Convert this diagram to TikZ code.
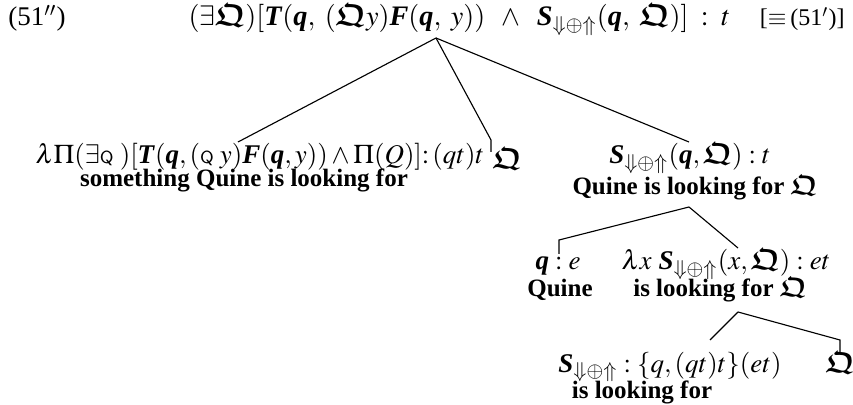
\documentclass[tikz,border=0pt]{standalone}
\usepackage{amsmath,amssymb}
\usepackage{mathptmx}
\usepackage{fontspec}
\setmainfont{Liberation Serif}
\usetikzlibrary{positioning}

\newcommand{\bi}[1]{\textbf{\textit{#1}}}
\newcommand{\fQ}{\text{\scalebox{1.1}{\usefont{U}{euf}{b}{n}Q}}}
\newcommand{\sQ}{\text{\fontsize{7}{8}\sffamily Q\ }}
\newcommand{\Sdo}{\bi{S}_{\text{\fontsize{8.6}{9}\selectfont${\Downarrow}{\oplus}{\Uparrow}$}}}

\begin{document}
\begin{tikzpicture}[
  x=0.4pt, y=-0.4pt,
  frm/.style={anchor=base, inner sep=0pt, font=\fontsize{10.8}{13}\selectfont},
  lbl/.style={anchor=base, inner sep=0pt, font=\fontsize{10}{12}\selectfont\bfseries},
  br/.style={line width=0.45pt}
]
\useasboundingbox (0,0) rectangle (853,405);

% root
\node[frm, anchor=base west] (num) at (8,26) {(51$''$)};
\node[frm, anchor=base west, font=\fontsize{11.3}{13}\selectfont] (root) at (188,26)
  {$(\exists\fQ)[\bi{T}(\bi{q},\;(\fQ y)\bi{F}(\bi{q},\;y))\;\;\wedge\;\;\Sdo(\bi{q},\;\fQ)]\;:\;t$};
\node[frm, anchor=base east, font=\fontsize{9.6}{12}\selectfont] (ref) at (845,26) {[$\equiv$\,(51$'$)]};

% first level
\node[frm, anchor=base west] (qnp) at (35,164)
  {$\lambda\Pi(\exists\sQ)[\bi{T}(\bi{q},(\sQ y)\bi{F}(\bi{q},y))\wedge\Pi(Q)]{:}\,(qt)t$};
\node[lbl] (qnpw) at (244,187) {something Quine is looking for};
\node[frm, anchor=base west] (q1) at (492,169) {$\fQ$};
\node[frm] (vp) at (690,164) {$\Sdo(\bi{q},\fQ) : t$};
\node[lbl] (vpw) at (695,195) {Quine is looking for $\fQ$};

% second level
\node[frm] (subj) at (558,270) {$\bi{q} : e$};
\node[lbl] (subjw) at (560,297) {Quine};
\node[frm] (pred) at (726,270) {$\lambda x\ \Sdo(x,\fQ) : et$};
\node[lbl] (predw) at (720,297) {is looking for $\fQ$};

% third level
\node[frm] (verb) at (670,372) {$\Sdo : \{q,(qt)t\}(et)$};
\node[lbl] (verbw) at (642,398) {is looking for};
\node[frm] (q3) at (840,372) {$\fQ$};

% branch points
\coordinate (r) at (436,38);
\coordinate (r1) at (238,142);
\coordinate (r2a) at (491,140);
\coordinate (r2b) at (491,152);
\coordinate (r3) at (689,142);
\coordinate (v) at (689,207);
\coordinate (v1a) at (559,240);
\coordinate (v1b) at (559,254);
\coordinate (v2) at (738,248);
\coordinate (p) at (738,312);
\coordinate (p1) at (710,340);
\coordinate (p2a) at (840,340);
\coordinate (p2b) at (840,352);

\draw[br] (r) -- (r1);
\draw[br] (r) -- (r2a) -- (r2b);
\draw[br] (r) -- (r3);
\draw[br] (v) -- (v1a) -- (v1b);
\draw[br] (v) -- (v2);
\draw[br] (p) -- (p1);
\draw[br] (p) -- (p2a) -- (p2b);
\end{tikzpicture}
\end{document}
